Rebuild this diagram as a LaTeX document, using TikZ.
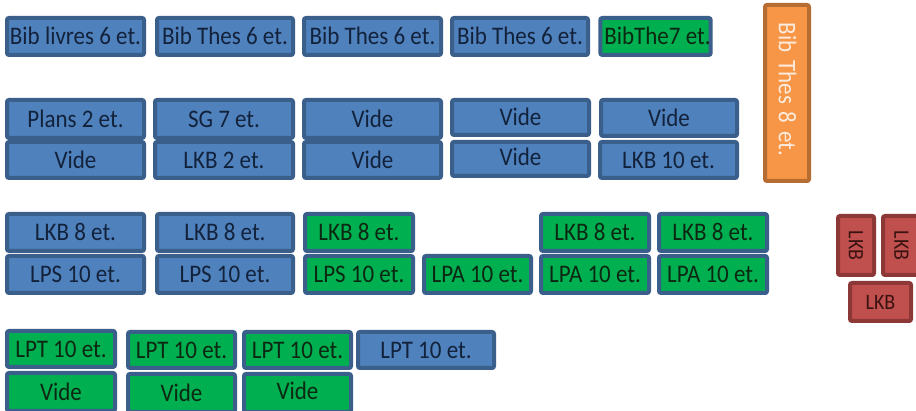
\documentclass[tikz,border=0pt]{standalone}
\usepackage{fontspec}
\usepackage{graphicx}
\setmainfont{Carlito}
\definecolor{bfill}{HTML}{4F81BD}
\definecolor{bline}{HTML}{3A5F8B}
\definecolor{gfill}{HTML}{00B050}
\definecolor{ofill}{HTML}{F79646}
\definecolor{oline}{HTML}{B66D31}
\definecolor{rfill}{HTML}{C0504D}
\definecolor{rline}{HTML}{8C3836}
\definecolor{btext}{HTML}{13223B}
\definecolor{gtext}{HTML}{0C2712}
\definecolor{otext}{HTML}{FDEBDD}
\definecolor{rtext}{HTML}{3A1212}
\tikzset{
  cellbox/.style={draw, line width=4pt, rounded corners=2pt, inner sep=0pt,
    text height=16.3pt, text depth=0pt, font=\fontsize{23}{25}\selectfont},
  bluebox/.style={cellbox, draw=bline, fill=bfill, text=btext},
  greenbox/.style={cellbox, draw=bline, fill=gfill, text=gtext},
  orangebox/.style={cellbox, draw=oline, fill=ofill, text=otext},
  redbox/.style={cellbox, draw=rline, fill=rfill, text=rtext,
    text height=14.2pt, font=\fontsize{20}{22}\selectfont},
}
\newcommand\bx[8][]{\node[#3, minimum width={#6-#4-4}, minimum height={#7-#5-4}, #1] (#2) at ({(#4+#6)/2},{(#5+#7)/2}) {\scalebox{1}[1.1]{#8}};}
\newcommand\rbx[8][]{\node[#3, rotate=-90, minimum width={#7-#5-4}, minimum height={#6-#4-4}, #1] (#2) at ({(#4+#6)/2},{(#5+#7)/2}) {\scalebox{1}[1.1]{#8}};}
\begin{document}
\begin{tikzpicture}[x=1pt,y=-1pt]
\useasboundingbox (0,0) rectangle (916,411);
\fill[white] (0,0) rectangle (916,411);
\clip (0,0) rectangle (916,411);
% row 1
\bx{a1}{bluebox}{5}{16}{146}{57}{Bib livres 6 et.}
\bx{a2}{bluebox}{155}{16}{295}{57}{Bib Thes 6 et.}
\bx{a3}{bluebox}{302}{16}{443}{57}{Bib Thes 6 et.}
\bx{a4}{bluebox}{450}{16}{590}{57}{Bib Thes 6 et.}
\bx[xshift=2pt]{a5}{greenbox}{598}{16}{709}{57}{\hspace*{4pt}BibThe7 et.}
\rbx[text width=140pt, align=left]{a6}{orangebox}{763}{3}{811}{183}{Bib Thes 8 et.}
% row 2
\bx{b1}{bluebox}{5}{98}{146}{140}{Plans 2 et.}
\bx{c1}{bluebox}{5}{140}{146}{180}{Vide}
\bx{b2}{bluebox}{153}{98}{295}{140}{SG 7 et.}
\bx{c2}{bluebox}{153}{140}{295}{180}{LKB 2 et.}
\bx{b3}{bluebox}{302}{98}{443}{140}{Vide}
\bx{c3}{bluebox}{302}{140}{443}{180}{Vide}
\bx{b4}{bluebox}{450}{98}{591}{137}{Vide}
\bx[text depth=4pt]{c4}{bluebox}{450}{140}{591}{178}{Vide}
\bx{b5}{bluebox}{599}{98}{739}{138}{Vide}
\bx{c5}{bluebox}{598}{140}{739}{180}{LKB 10 et.}
% row 3
\bx{d1}{bluebox}{5}{212}{146}{253}{LKB 8 et.}
\bx{e1}{bluebox}{5}{254}{146}{295}{LPS 10 et.}
\bx{d2}{bluebox}{155}{212}{295}{253}{LKB 8 et.}
\bx{e2}{bluebox}{155}{254}{295}{295}{LPS 10 et.}
\bx{d3}{greenbox}{303}{212}{415}{253}{LKB 8 et.}
\bx{e3}{greenbox}{303}{254}{415}{295}{LPS 10 et.}
\bx{e4}{greenbox}{422}{254}{533}{295}{LPA 10 et.}
\bx{d5}{greenbox}{539}{212}{651}{253}{LKB 8 et.}
\bx{e5}{greenbox}{539}{254}{651}{295}{LPA 10 et.}
\bx{d6}{greenbox}{657}{212}{769}{253}{LKB 8 et.}
\bx{e6}{greenbox}{657}{254}{769}{295}{LPA 10 et.}
% red
\rbx{r1}{redbox}{836}{214}{876}{277}{LKB}
\rbx{r2}{redbox}{881}{214}{922}{277}{LKB}
\bx{r3}{redbox}{848}{281}{913}{323}{LKB}
% row 4
\bx{f1}{greenbox}{5}{329}{117}{369}{LPT 10 et.}
\bx{g1}{greenbox}{5}{371}{117}{413}{Vide}
\bx{f2}{greenbox}{126}{330}{237}{370}{LPT 10 et.}
\bx{g2}{greenbox}{126}{372}{237}{414}{Vide}
\bx{f3}{greenbox}{242}{330}{353}{370}{LPT 10 et.}
\bx[text depth=4pt]{g3}{greenbox}{242}{372}{353}{414}{Vide}
\bx{f4}{bluebox}{356}{330}{496}{370}{LPT 10 et.}
\end{tikzpicture}
\end{document}
